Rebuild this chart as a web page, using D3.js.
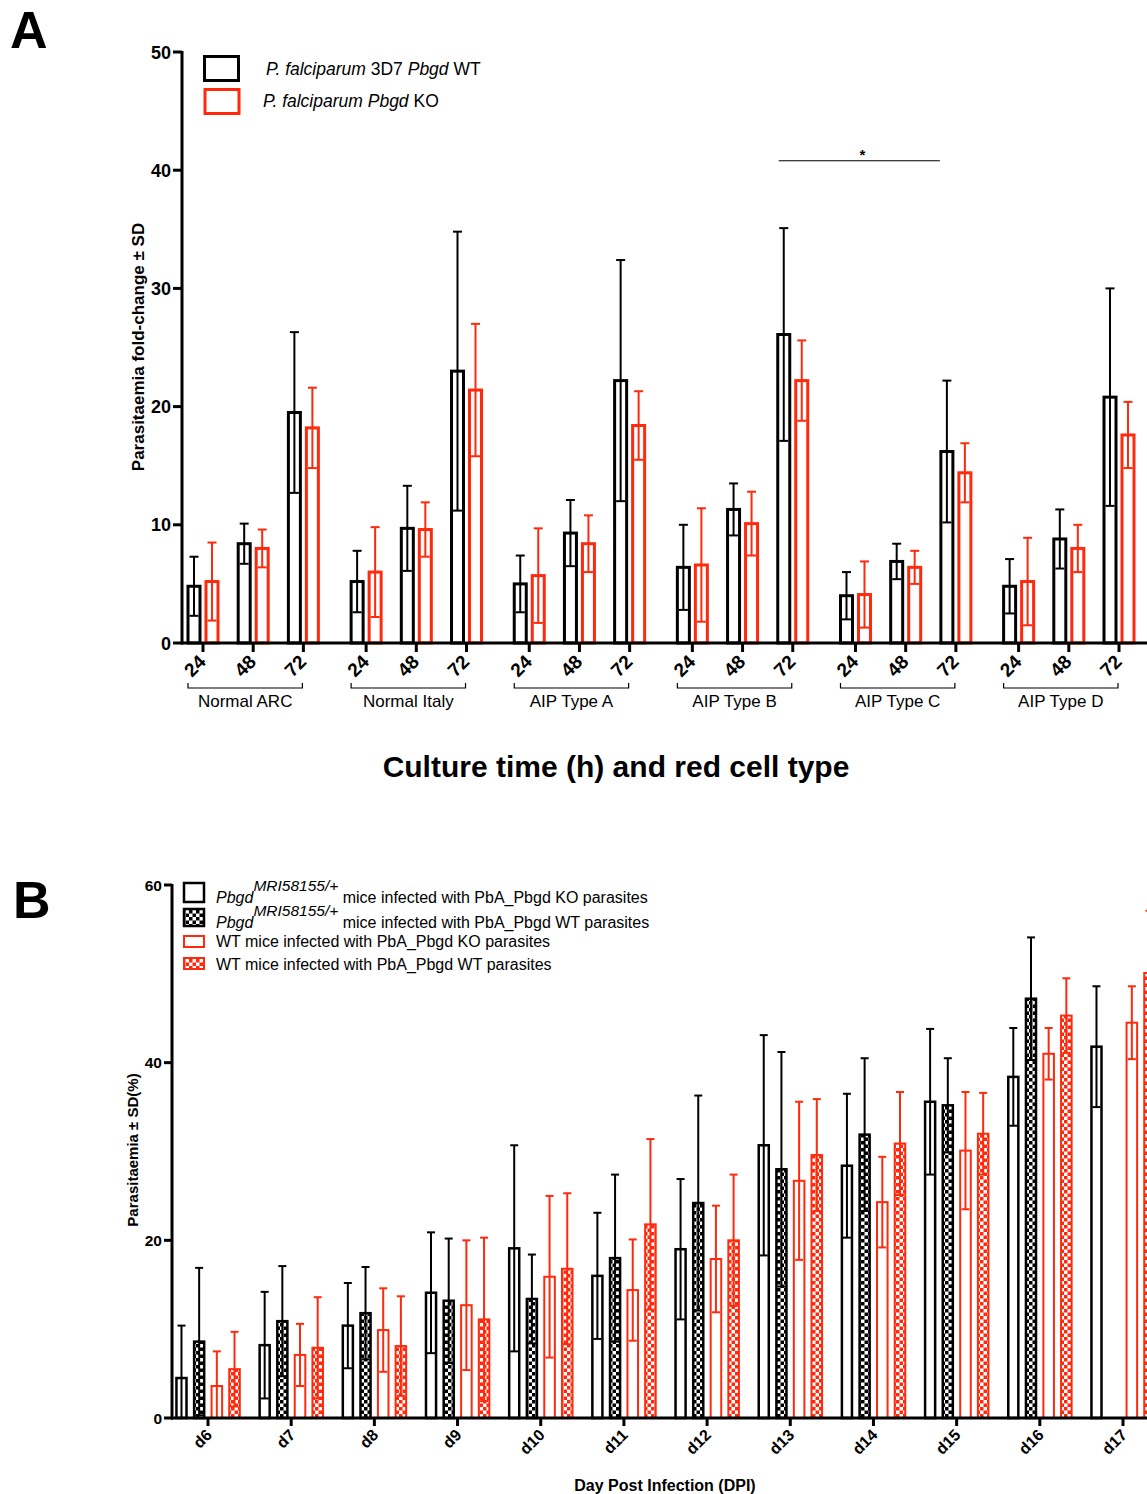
<!DOCTYPE html>
<html>
<head>
<meta charset="utf-8">
<script src="https://cdn.jsdelivr.net/npm/d3@7"></script>
<style>
  body { margin: 0; background: #fff; }
  text { font-family: "Liberation Sans", Arial, Helvetica, sans-serif; }
</style>
</head>
<body>
<div id="chart"></div>
<script>
// ---- panel A data ----
var groupsA = ["Normal ARC", "Normal Italy", "AIP Type A", "AIP Type B", "AIP Type C", "AIP Type D"];
var hoursA = ["24", "48", "72"];
var wtMean = [4.8, 8.4, 19.5, 5.2, 9.7, 23.0, 5.0, 9.3, 22.2, 6.4, 11.3, 26.1, 4.0, 6.9, 16.2, 4.8, 8.8, 20.8];
var wtSD   = [2.5, 1.7, 6.8, 2.6, 3.6, 11.8, 2.4, 2.8, 10.2, 3.6, 2.2, 9.0, 2.0, 1.5, 6.0, 2.3, 2.5, 9.2];
var koMean = [5.2, 8.0, 18.2, 6.0, 9.6, 21.4, 5.7, 8.4, 18.4, 6.6, 10.1, 22.2, 4.1, 6.4, 14.4, 5.2, 8.0, 17.6];
var koSD   = [3.3, 1.6, 3.4, 3.8, 2.3, 5.6, 4.0, 2.4, 2.9, 4.8, 2.7, 3.4, 2.8, 1.4, 2.5, 3.7, 2.0, 2.8];
var yTicksA = [0, 10, 20, 30, 40, 50];
var sigLevel = 40.8;   // height of the "*" bracket

// ---- panel B data ----
var days = ["d6", "d7", "d8", "d9", "d10", "d11", "d12", "d13", "d14", "d15", "d16", "d17"];
var hetKO   = [4.5, 8.2, 10.4, 14.1, 19.1, 16.0, 19.0, 30.7, 28.4, 35.6, 38.4, 41.8];
var hetKOsd = [5.9, 6.0, 4.8, 6.8, 11.6, 7.1, 7.9, 12.4, 8.1, 8.2, 5.5, 6.8];
var hetWT   = [8.6, 10.9, 11.8, 13.2, 13.4, 18.0, 24.2, 28.0, 31.9, 35.2, 47.2, null];
var hetWTsd = [8.3, 6.2, 5.2, 7.0, 5.0, 9.4, 12.1, 13.2, 8.6, 5.3, 6.9, null];
var wtKO    = [3.6, 7.1, 9.9, 12.7, 15.9, 14.4, 17.9, 26.7, 24.3, 30.1, 41.0, 44.5];
var wtKOsd  = [3.9, 3.5, 4.7, 7.3, 9.1, 5.7, 6.0, 8.9, 5.1, 6.6, 2.9, 4.1];
var wtWT    = [5.5, 7.9, 8.1, 11.1, 16.8, 21.8, 20.0, 29.6, 30.9, 32.0, 45.3, 50.1];
var wtWTsd  = [4.2, 5.7, 5.6, 9.2, 8.5, 9.6, 7.4, 6.3, 5.8, 4.6, 4.2, 7.0];
var yTicksB = [0, 20, 40, 60];

var RED = "#ff2a0d";

var svg = d3.select("#chart").append("svg")
    .attr("width", 1147)
    .attr("height", 1494);

// checker patterns
var defs = svg.append("defs");
[["checkBlack", "#000"], ["checkRed", RED]].forEach(function(p) {
  var pat = defs.append("pattern")
      .attr("id", p[0])
      .attr("patternUnits", "userSpaceOnUse")
      .attr("width", 7).attr("height", 7);
  pat.append("rect").attr("width", 7).attr("height", 7).attr("fill", "#fff");
  pat.append("rect").attr("width", 3.5).attr("height", 3.5).attr("fill", p[1]);
  pat.append("rect").attr("x", 3.5).attr("y", 3.5).attr("width", 3.5).attr("height", 3.5).attr("fill", p[1]);
});

// panel letters
svg.append("text").attr("x", 10).attr("y", 48).attr("font-size", 52).attr("font-weight", "bold").text("A");
svg.append("text").attr("x", 13).attr("y", 918).attr("font-size", 52).attr("font-weight", "bold").text("B");

// =================== PANEL A ===================
var yA = d3.scaleLinear().domain([0, 50]).range([643, 52]);
// position index: group g, hour j -> g*3.25 + j
var xA = d3.scaleLinear().domain([0, 16.25 + 2]).range([203, 1119]);
function posA(i) { return Math.floor(i / 3) * 3.25 + (i % 3); }

var rowsA = [];
wtMean.forEach(function(v, i) {
  rowsA.push({i: i, mean: v, sd: wtSD[i], off: -9, col: "#000"});
  rowsA.push({i: i, mean: koMean[i], sd: koSD[i], off: 9, col: RED});
});

var gA = svg.append("g");
var bwA = 15;

gA.selectAll(".barA").data(rowsA).enter().append("rect")
    .attr("x", function(d) { return xA(posA(d.i)) + d.off - bwA / 2 + 1.5; })
    .attr("y", function(d) { return yA(d.mean); })
    .attr("width", bwA - 3)
    .attr("height", function(d) { return yA(0) - yA(d.mean); })
    .attr("fill", "none")
    .attr("stroke", function(d) { return d.col; })
    .attr("stroke-width", 3);

function errBars(g, rows, xf, yf, capW, sw) {
  rows.forEach(function(d) {
    var cx = xf(d);
    var lo = Math.max(0, d.mean - d.sd), hi = d.mean + d.sd;
    g.append("line").attr("x1", cx).attr("x2", cx)
        .attr("y1", yf(lo)).attr("y2", yf(hi))
        .attr("stroke", d.col).attr("stroke-width", sw);
    g.append("line").attr("x1", cx - capW / 2).attr("x2", cx + capW / 2)
        .attr("y1", yf(hi)).attr("y2", yf(hi))
        .attr("stroke", d.col).attr("stroke-width", sw);
    if (d.mean - d.sd > 0) {
      g.append("line").attr("x1", cx - capW / 2).attr("x2", cx + capW / 2)
          .attr("y1", yf(lo)).attr("y2", yf(lo))
          .attr("stroke", d.col).attr("stroke-width", sw);
    }
  });
}
errBars(gA, rowsA, function(d) { return xA(posA(d.i)) + d.off; }, yA, 9, 2);

// y axis A
gA.append("line").attr("x1", 182).attr("x2", 182).attr("y1", yA(50) - 1).attr("y2", yA(0) + 1.5)
    .attr("stroke", "#000").attr("stroke-width", 3);
yTicksA.forEach(function(t) {
  gA.append("line").attr("x1", 173).attr("x2", 182).attr("y1", yA(t)).attr("y2", yA(t))
      .attr("stroke", "#000").attr("stroke-width", 3);
  gA.append("text").attr("x", 171).attr("y", yA(t) + 6.5)
      .attr("text-anchor", "end").attr("font-size", 18).attr("font-weight", "bold").text(t);
});
// x axis A
gA.append("line").attr("x1", 181).attr("x2", 1147).attr("y1", yA(0)).attr("y2", yA(0))
    .attr("stroke", "#000").attr("stroke-width", 3);
wtMean.forEach(function(v, i) {
  var x = xA(posA(i));
  gA.append("line").attr("x1", x).attr("x2", x).attr("y1", yA(0)).attr("y2", yA(0) + 9)
      .attr("stroke", "#000").attr("stroke-width", 3);
  gA.append("text").attr("transform", "translate(" + (x + 4) + "," + (yA(0) + 20) + ") rotate(-45)")
      .attr("text-anchor", "end").attr("font-size", 19).attr("font-weight", "bold")
      .text(hoursA[i % 3]);
});
// group brackets
groupsA.forEach(function(gname, g) {
  var x0 = xA(g * 3.25) - 15, x1 = xA(g * 3.25 + 2) - 1;
  gA.append("path")
      .attr("d", "M" + x0 + ",683V688H" + x1 + "V683")
      .attr("fill", "none").attr("stroke", "#000").attr("stroke-width", 1.2);
  gA.append("text").attr("x", (x0 + x1) / 2).attr("y", 707)
      .attr("text-anchor", "middle").attr("font-size", 17).text(gname);
});
// significance
var sx0 = xA(posA(11)) - 14, sx1 = xA(posA(14)) - 16;
gA.append("line").attr("x1", sx0).attr("x2", sx1).attr("y1", yA(sigLevel)).attr("y2", yA(sigLevel))
    .attr("stroke", "#000").attr("stroke-width", 1.2);
gA.append("text").attr("x", (sx0 + sx1) / 2 + 3).attr("y", yA(sigLevel) - 1)
    .attr("text-anchor", "middle").attr("font-size", 15).attr("font-weight", "bold").text("*");

// axis titles A
svg.append("text").attr("transform", "translate(144,347) rotate(-90)")
    .attr("text-anchor", "middle").attr("font-size", 17).attr("font-weight", "bold")
    .text("Parasitaemia fold-change \u00b1 SD");
svg.append("text").attr("x", 616).attr("y", 777)
    .attr("text-anchor", "middle").attr("font-size", 30).attr("font-weight", "bold")
    .text("Culture time (h) and red cell type");

// legend A
svg.append("rect").attr("x", 204.5).attr("y", 56.5).attr("width", 34).attr("height", 24)
    .attr("fill", "none").attr("stroke", "#000").attr("stroke-width", 3);
svg.append("rect").attr("x", 205).attr("y", 89.5).attr("width", 34).attr("height", 24)
    .attr("fill", "none").attr("stroke", RED).attr("stroke-width", 3);
var la1 = svg.append("text").attr("x", 266).attr("y", 75).attr("font-size", 17.5);
la1.append("tspan").attr("font-style", "italic").text("P. falciparum");
la1.append("tspan").text(" 3D7 ");
la1.append("tspan").attr("font-style", "italic").text("Pbgd");
la1.append("tspan").text(" WT");
var la2 = svg.append("text").attr("x", 263).attr("y", 107).attr("font-size", 17.5);
la2.append("tspan").attr("font-style", "italic").text("P. falciparum Pbgd");
la2.append("tspan").text(" KO");

// =================== PANEL B ===================
var yB = d3.scaleLinear().domain([0, 60]).range([1418, 885]);
var xB = d3.scalePoint().domain(days).range([208, 1123]);
var seriesB = ["hetKO", "hetWT", "wtKO", "wtWT"];
var xB1 = d3.scaleBand().domain(seriesB).range([-32.8, 32.8]).paddingInner(0.29);

var styleB = {
  hetKO: {fill: "#fff", col: "#000", sw: 2.5},
  hetWT: {fill: "url(#checkBlack)", col: "#000", sw: 2.5},
  wtKO:  {fill: "#fff", col: RED, sw: 2},
  wtWT:  {fill: "url(#checkRed)", col: RED, sw: 2}
};
var valsB = {hetKO: [hetKO, hetKOsd], hetWT: [hetWT, hetWTsd], wtKO: [wtKO, wtKOsd], wtWT: [wtWT, wtWTsd]};

var rowsB = [];
days.forEach(function(day, i) {
  seriesB.forEach(function(s) {
    var m = valsB[s][0][i];
    if (m === null) return;
    rowsB.push({day: day, s: s, mean: m, sd: valsB[s][1][i], col: styleB[s].col});
  });
});

var gB = svg.append("g");
var bwB = xB1.bandwidth();
gB.selectAll(".barB").data(rowsB).enter().append("rect")
    .attr("x", function(d) { return xB(d.day) + xB1(d.s) + styleB[d.s].sw / 2; })
    .attr("y", function(d) { return yB(d.mean); })
    .attr("width", function(d) { return bwB - styleB[d.s].sw; })
    .attr("height", function(d) { return yB(0) - yB(d.mean); })
    .attr("fill", function(d) { return styleB[d.s].fill; })
    .attr("stroke", function(d) { return d.col; })
    .attr("stroke-width", function(d) { return styleB[d.s].sw; });

errBars(gB, rowsB, function(d) { return xB(d.day) + xB1(d.s) + bwB / 2; }, yB, 8, 2);

// y axis B
gB.append("line").attr("x1", 172).attr("x2", 172).attr("y1", yB(60) - 1).attr("y2", yB(0) + 1.5)
    .attr("stroke", "#000").attr("stroke-width", 3);
yTicksB.forEach(function(t) {
  gB.append("line").attr("x1", 164).attr("x2", 172).attr("y1", yB(t)).attr("y2", yB(t))
      .attr("stroke", "#000").attr("stroke-width", 3);
  gB.append("text").attr("x", 162).attr("y", yB(t) + 5.5)
      .attr("text-anchor", "end").attr("font-size", 15.5).attr("font-weight", "bold").text(t);
});
// x axis B
gB.append("line").attr("x1", 171).attr("x2", 1147).attr("y1", yB(0)).attr("y2", yB(0))
    .attr("stroke", "#000").attr("stroke-width", 3);
days.forEach(function(day) {
  var x = xB(day);
  gB.append("line").attr("x1", x).attr("x2", x).attr("y1", yB(0)).attr("y2", yB(0) + 8)
      .attr("stroke", "#000").attr("stroke-width", 3);
  gB.append("text").attr("transform", "translate(" + (x + 5) + "," + (yB(0) + 18) + ") rotate(-45)")
      .attr("text-anchor", "end").attr("font-size", 16).attr("font-weight", "bold").text(day);
});

svg.append("text").attr("transform", "translate(138,1150) rotate(-90)")
    .attr("text-anchor", "middle").attr("font-size", 15).attr("font-weight", "bold")
    .text("Parasitaemia \u00b1 SD(%)");
svg.append("text").attr("x", 665).attr("y", 1491)
    .attr("text-anchor", "middle").attr("font-size", 16).attr("font-weight", "bold")
    .text("Day Post Infection (DPI)");

// legend B
var legB = [
  {s: "hetKO", y: 883, h: 19, het: true, txt: " mice infected with PbA_Pbgd KO parasites", base: 903},
  {s: "hetWT", y: 909, h: 17, het: true, txt: " mice infected with PbA_Pbgd WT parasites", base: 928},
  {s: "wtKO", y: 936, h: 11, het: false, txt: "WT mice infected with PbA_Pbgd KO parasites", base: 947},
  {s: "wtWT", y: 958, h: 11, het: false, txt: "WT mice infected with PbA_Pbgd WT parasites", base: 970}
];
legB.forEach(function(l) {
  var st = styleB[l.s];
  svg.append("rect").attr("x", 184).attr("y", l.y).attr("width", 20).attr("height", l.h)
      .attr("fill", st.fill).attr("stroke", st.col).attr("stroke-width", st.sw);
  var t = svg.append("text").attr("x", 216).attr("y", l.base).attr("font-size", 16);
  if (l.het) {
    t.append("tspan").attr("font-style", "italic").text("Pbgd");
    t.append("tspan").attr("font-style", "italic").attr("font-size", 15.5).attr("dy", -12).text("MRI58155/+");
    t.append("tspan").attr("dy", 12).text(l.txt);
  } else {
    t.text(l.txt);
  }
});
</script>
</body>
</html>
